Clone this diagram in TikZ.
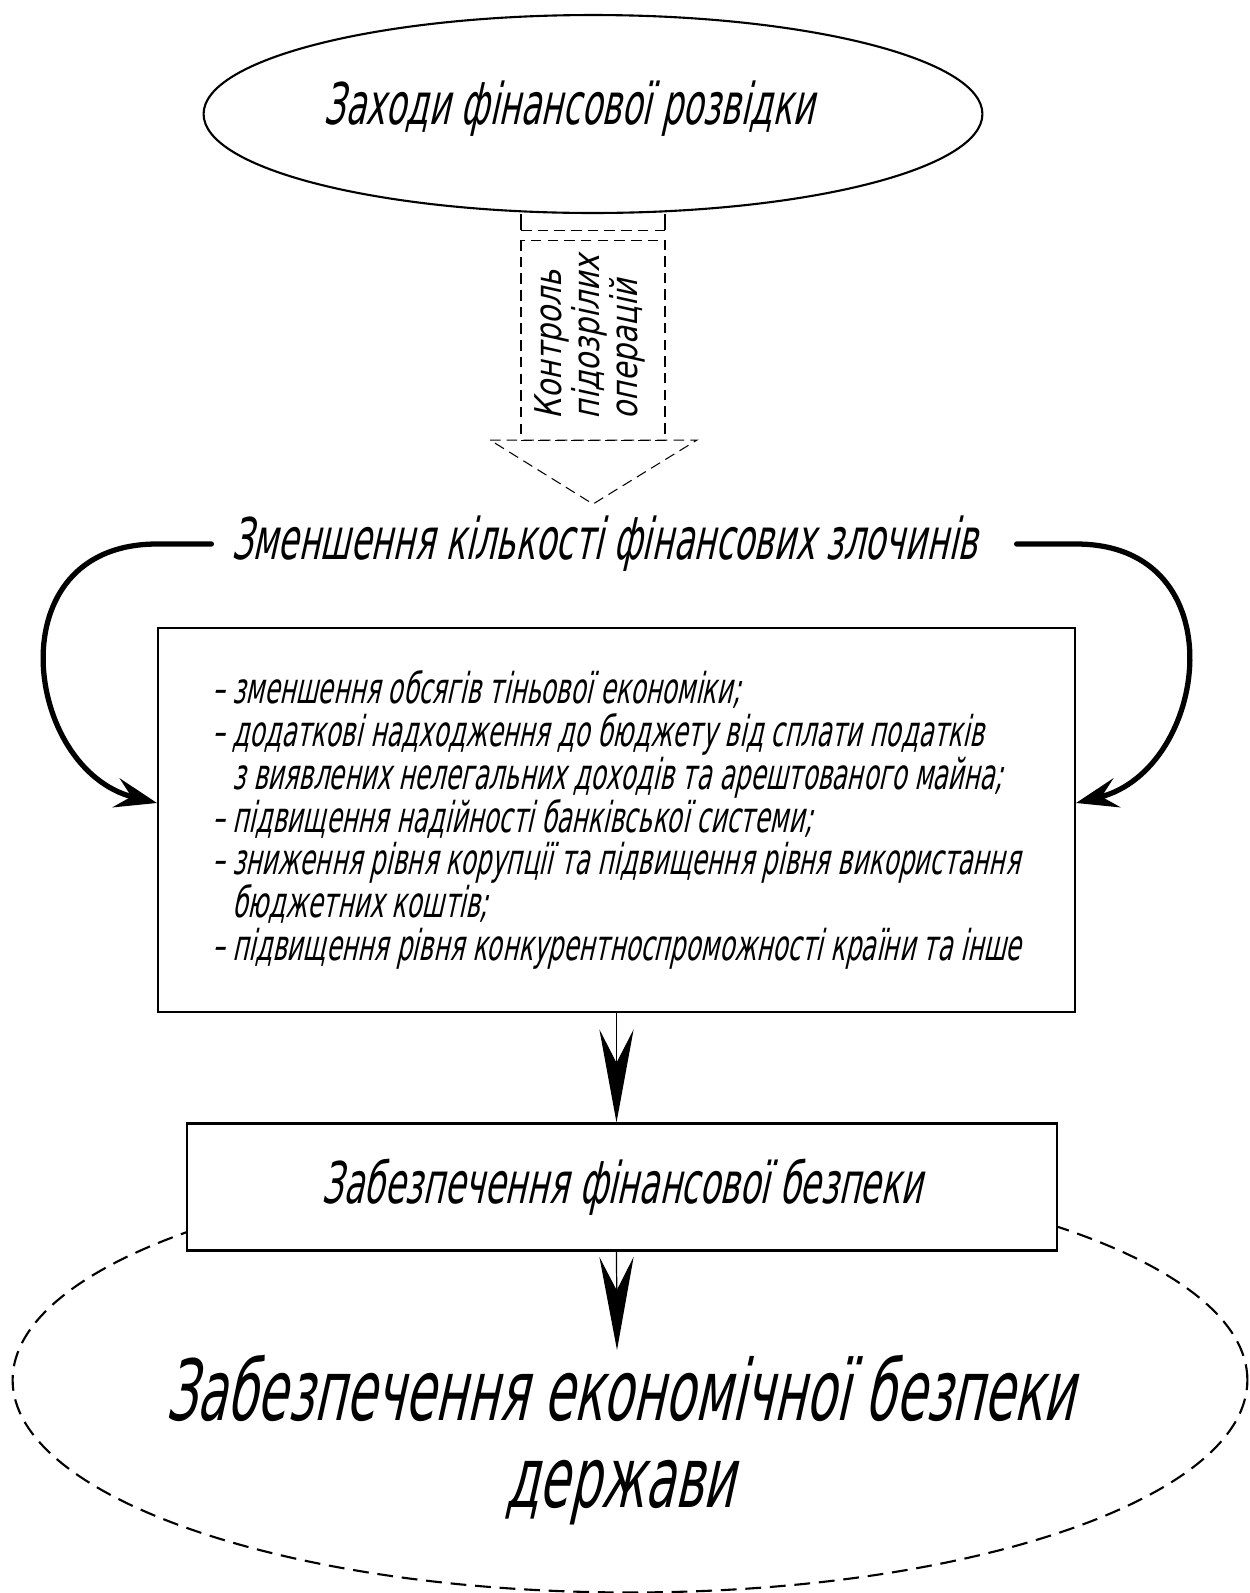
\documentclass[tikz,border=0pt]{standalone}
\usepackage{fontspec}
\setmainfont{DejaVu Sans}[FakeStretch=0.58,FakeSlant=0.22]
\newfontfamily\ctrlfont{DejaVu Sans}[FakeStretch=0.8,FakeSlant=0.22]
\usetikzlibrary{arrows.meta,positioning,shapes.geometric,calc}

\begin{document}
\begin{tikzpicture}[x=0.02cm, y=-0.02cm,
    oval/.style={draw, ellipse, line width=1.2pt, minimum width=15.58cm, minimum height=3.96cm},
    goaloval/.style={draw, ellipse, line width=1.2pt, dash pattern=on 9pt off 5pt, minimum width=24.7cm, minimum height=8.5cm},
    block/.style={draw, line width=1.2pt, fill=white},
    bigtxt/.style={font=\fontsize{32.7}{39}\selectfont},
    listtxt/.style={font=\fontsize{24.2}{24.4}\selectfont, align=left},
    goaltxt/.style={font=\fontsize{48}{50}\selectfont, align=center},
    ctrltxt/.style={font=\ctrlfont\fontsize{21}{21.5}\selectfont, align=left, rotate=90},
    ghost/.style={line width=0.6pt, dash pattern=on 6pt off 3.5pt},
    curvearr/.style={-{Stealth[length=24pt, width=17pt, inset=9pt]}, line width=3pt, line cap=round},
    downarr/.style={-{Stealth[length=53pt, width=19.5pt, inset=19pt]}, line width=0.7pt}
]
\useasboundingbox (0,0) rectangle (1250,1593);

\node[oval] (zahody) at (593,114) {};
\node[bigtxt] (zahodytxt) at (569,109) {Заходи фінансової розвідки};

\coordinate (stubL) at ($(zahody.south)+(-72,0)$);
\coordinate (stubR) at ($(zahody.south)+(72,0)$);
\draw[line width=0.6pt] (stubL) -- ++(0,16);
\draw[line width=0.6pt] (stubR) -- ++(0,16);
\draw[ghost] ($(stubL)+(0,16)$) -- ($(stubR)+(0,16)$);
\draw[ghost] ($(stubL)+(0,26)$) rectangle ($(stubR)+(0,226)$);
\draw[ghost] ($(stubL)+(-31,226)$) -- ($(stubR)+(32,226)$) -- ($(zahody.south)+(0,290)$) -- cycle;
\node[ctrltxt] (ctrl) at (590,337) {Контроль\\підозрілих\\операцій};

\node[bigtxt, inner xsep=11pt] (zmen) at (604,544) {Зменшення кількості фінансових злочинів};

\node[block, minimum width=18.34cm, minimum height=7.68cm, listtxt] (effects) at (616.5,820) {– зменшення обсягів тіньової економіки;\\
– додаткові надходження до бюджету від сплати податків\\
\hphantom{– }з виявлених нелегальних доходів та арештованого майна;\\
– підвищення надійності банківської системи;\\
– зниження рівня корупції та підвищення рівня використання\\
\hphantom{– }бюджетних коштів;\\
– підвищення рівня конкурентноспроможності країни та інше};

\draw[curvearr] (zmen.west) -- (zmen.west -| effects.west) .. controls ++(-163,0) and ($(effects.west)+(-133,-50)$) .. ($(effects.west)+(0,-17)$);
\draw[curvearr] ($(zmen.east)+(20,0)$) -- (zmen.east -| effects.east) .. controls ++(163,0) and ($(effects.east)+(133,-50)$) .. ($(effects.east)+(0,-17)$);

\node[goaloval] (econ) at (630,1380) {};
\node[block, minimum width=17.4cm, minimum height=2.54cm, bigtxt] (finsec) at (622,1187) {Забезпечення фінансової безпеки};
\node[goaltxt] (econtxt) at (620,1440) {Забезпечення економічної безпеки\\держави};
\coordinate (tipb) at (617,1350);

\draw[downarr] (effects.south) -- (effects.south |- finsec.north);
\draw[downarr] (finsec.south -| effects.south) -- (tipb);
\end{tikzpicture}
\end{document}
